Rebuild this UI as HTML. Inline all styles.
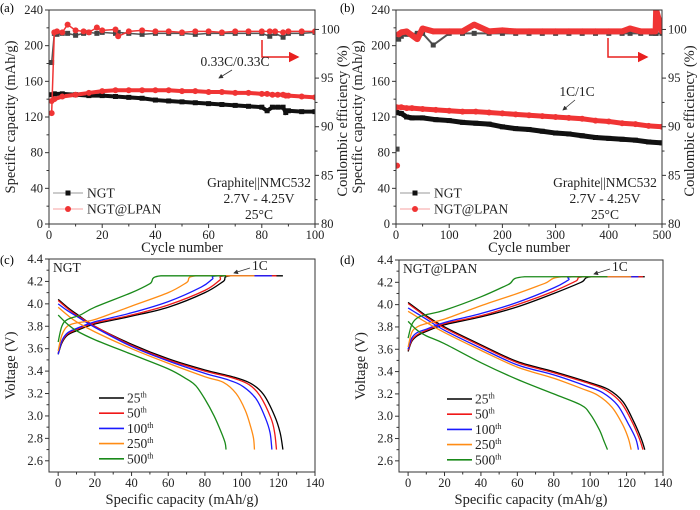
<!DOCTYPE html>
<html><head><meta charset="utf-8"><style>
html,body{margin:0;padding:0;background:#fff;}
svg{display:block;font-family:"Liberation Serif",serif;}
</style></head><body>
<svg id="fig" width="700" height="510" viewBox="0 0 700 510" xmlns="http://www.w3.org/2000/svg">
<defs>
<marker id="ahK" markerWidth="6" markerHeight="6" refX="5" refY="3" orient="auto"><path d="M0,0 L6,3 L0,6 Z" fill="#333"/></marker>
<marker id="ahR" markerWidth="7" markerHeight="7" refX="6" refY="3.5" orient="auto"><path d="M0,0 L7,3.5 L0,7 Z" fill="#e8201f"/></marker>
</defs>
<text x="0" y="12" font-size="12.5">(a)</text>
<text x="340" y="12" font-size="12.5">(b)</text>
<text x="0" y="264" font-size="12.5">(c)</text>
<text x="340" y="264" font-size="12.5">(d)</text>
</svg>
<script>
// ---------- Panel (a) data ----------
const aCycles = [1,2,5,10,15,20,25,30,35,40,45,50,55,60,65,70,75,80,82,84,86,88,89,90,95,100];
const aNGTcap = [145,146,146,145,144,144,143,142,141,139,138,137,136,135,134,133,132,131,127,131,131,131,125,127,126,126];
const aLPANcap = [138,140,143,145,147,149,150,150,150,150,150,149,149,148,148,147,147,146,146,145,145,145,144,144,143,142];
const aCEcycles = [1,2,3,5,7,10,13,15,18,20,25,26,30,35,40,45,50,55,60,65,70,75,80,83,85,88,90,95,100];
const aNGTce = [96.6,99.6,99.5,99.6,99.6,99.4,99.6,99.7,99.6,99.7,99.6,99.7,99.6,99.5,99.6,99.6,99.6,99.5,99.6,99.6,99.6,99.6,99.6,99.3,99.6,99.2,99.6,99.6,99.7];
const aLPANce = [91.4,99.7,99.8,99.7,100.5,99.9,99.8,99.7,100.2,99.9,100.0,99.3,99.8,99.9,99.8,99.8,99.7,99.8,99.8,99.7,99.8,99.8,99.8,99.8,99.8,99.7,99.8,99.8,99.8];
// ---------- Panel (b) data ----------
const bCycles = [1,10,20,30,50,75,100,125,150,175,200,225,250,275,300,325,350,375,400,425,450,475,500];
const bNGTcap = [125,124,120,119,119,117,116,114,113,112,109,107,106,104,102,101,99,97,96,95,94,92,91];
const bLPANcap = [131,131,130,130,129,128,127,126,126,125,124,123,122,121,120,119,118,116,115,113,112,110,109];
const bCEcycles = [2,5,10,20,40,50,70,100,125,147,175,200,225,250,275,300,325,350,375,400,425,440,460,480,488,489,500];
const bNGTce = [87.7,99.0,99.3,99.5,99.6,99.6,98.4,99.6,99.6,99.6,99.6,99.6,99.6,99.6,99.6,99.6,99.6,99.6,99.6,99.6,99.6,99.6,99.6,99.6,99.6,99.6,99.6];
const bLPANce = [86.0,99.5,99.7,99.8,99.0,100.1,99.8,99.8,99.8,100.5,99.8,99.9,99.8,99.8,99.8,99.8,99.8,99.8,99.8,99.8,99.8,100.1,99.8,99.8,99.8,102,99.8];
// ---------- Panel (c) voltage profiles (NGT) ----------
const cycleLabels = ["25","50","100","250","500"];
const curveColors = ["#000000","#f01818","#1a1aff","#ff8c14","#1a8a1a"];
const cDisCap = [[0,5,10,20,40,60,80,95,105,112,118,121,122.5],[0,5,10,20,40,60,80,95,104,110,116,118,119],[0,5,10,20,40,60,80,93,101,108,113,115.5,116.5],[0,5,10,20,40,60,80,90,97,102,105,106.5,107],[0,5,10,20,40,60,70,75,80,85,89,91,91.5]];
const cDisV = [[4.04,3.97,3.91,3.80,3.64,3.51,3.41,3.35,3.29,3.19,3.0,2.85,2.7],[4.03,3.96,3.90,3.80,3.63,3.50,3.40,3.34,3.28,3.18,2.98,2.85,2.7],[4.00,3.94,3.89,3.79,3.62,3.49,3.38,3.32,3.26,3.15,2.98,2.85,2.7],[3.97,3.90,3.84,3.75,3.60,3.47,3.35,3.30,3.20,3.05,2.90,2.8,2.7],[3.90,3.82,3.76,3.68,3.55,3.42,3.33,3.27,3.15,3.0,2.85,2.76,2.7]];
const cChgCap = [[0,2,5,10,20,40,60,80,90,94,122.5],[0,2,5,10,20,40,60,80,88,91,119],[0,2,5,10,20,40,60,78,84,87,116.5],[0,2,5,10,20,40,60,70,75,107],[0,2,5,12,20,40,50,56,91.5]];
const cChgV = [[3.55,3.65,3.72,3.76,3.82,3.89,3.97,4.10,4.20,4.25,4.25],[3.56,3.66,3.73,3.77,3.83,3.90,3.99,4.12,4.21,4.25,4.25],[3.55,3.67,3.74,3.78,3.84,3.92,4.02,4.15,4.22,4.25,4.25],[3.58,3.72,3.80,3.83,3.86,3.98,4.10,4.19,4.25,4.25],[3.66,3.80,3.86,3.90,3.97,4.10,4.18,4.25,4.25]];
// ---------- Panel (d) voltage profiles (NGT@LPAN) ----------
const dDisCap = [[0,5,10,20,40,60,80,100,110,118,124,128,130],[0,5,10,20,40,60,80,100,109,117,123,127,129],[0,5,10,20,40,60,80,98,107,115,121,125,126.5],[0,5,10,20,40,60,80,95,104,112,118,121,122.5],[0,5,10,20,40,60,80,95,100,105,107.5,109.5]];
const dDisV = [[4.02,3.96,3.90,3.80,3.64,3.49,3.40,3.30,3.24,3.13,2.95,2.8,2.7],[4.01,3.95,3.89,3.79,3.63,3.48,3.39,3.29,3.23,3.12,2.95,2.8,2.7],[3.97,3.92,3.87,3.77,3.61,3.46,3.37,3.27,3.21,3.10,2.93,2.8,2.7],[3.94,3.89,3.84,3.75,3.59,3.44,3.34,3.25,3.19,3.08,2.92,2.8,2.7],[3.85,3.77,3.72,3.65,3.48,3.33,3.20,3.10,3.02,2.88,2.78,2.7]];
const dChgCap = [[0,2,5,10,20,40,60,80,95,101,130],[0,2,5,10,20,40,60,80,92,97,129],[0,2,5,10,20,40,60,80,88,91,126.5],[0,2,5,10,20,40,60,75,85,122.5],[0,2,5,10,20,40,55,64,109.5]];
const dChgV = [[3.58,3.67,3.72,3.76,3.82,3.89,3.98,4.10,4.20,4.25,4.25],[3.59,3.68,3.73,3.77,3.83,3.90,4.00,4.12,4.21,4.25,4.25],[3.60,3.70,3.75,3.78,3.84,3.92,4.02,4.15,4.22,4.25,4.25],[3.62,3.75,3.80,3.83,3.87,3.99,4.10,4.19,4.25,4.25],[3.70,3.82,3.88,3.91,3.95,4.07,4.18,4.25,4.25]];

const svg = document.getElementById('fig');
const NS = 'http://www.w3.org/2000/svg';
const TICK = 12.5, TITLE = 14.5;
function mk(tag, attrs, parent){
  const e = document.createElementNS(NS, tag);
  for (const k in attrs) e.setAttribute(k, attrs[k]);
  (parent||svg).appendChild(e);
  return e;
}
function scale(d0,d1,r0,r1){ return v => r0 + (v-d0)/(d1-d0)*(r1-r0); }
function smoothPath(pts){
  let d = 'M'+pts[0][0].toFixed(2)+','+pts[0][1].toFixed(2);
  for (let i=0;i<pts.length-1;i++){
    const p0=pts[Math.max(i-1,0)], p1=pts[i], p2=pts[i+1], p3=pts[Math.min(i+2,pts.length-1)];
    let c1=[p1[0]+(p2[0]-p0[0])/6, p1[1]+(p2[1]-p0[1])/6];
    let c2=[p2[0]-(p3[0]-p1[0])/6, p2[1]-(p3[1]-p1[1])/6];
    if (Math.abs(p1[1]-p2[1])<0.01){ c1=[p1[0]+(p2[0]-p1[0])/3,p1[1]]; c2=[p2[0]-(p2[0]-p1[0])/3,p2[1]]; }
    d += ' C'+c1[0].toFixed(2)+','+c1[1].toFixed(2)+' '+c2[0].toFixed(2)+','+c2[1].toFixed(2)+' '+p2[0].toFixed(2)+','+p2[1].toFixed(2);
  }
  return d;
}
function txt(x,y,s,size,anchor){
  const t = mk('text', {x:x,y:y,'font-size':size,'text-anchor':anchor||'start',fill:'#222'});
  t.textContent = s;
  return t;
}
function drawBox(L,T,R,B,name){
  const r = mk('rect',{x:L,y:T,width:R-L,height:B-T,fill:'none',stroke:'#333','stroke-width':1});
  
  
}
function xAxis(sx,ticks,B,name){
  const g = mk('g',{});
  
  
  for (let i=0;i<ticks.length;i++){
    const x = sx(ticks[i]);
    mk('line',{x1:x,y1:B,x2:x,y2:B+4,stroke:'#333'},g);
    const t = mk('text',{x:x,y:B+15,'font-size':TICK,'text-anchor':'middle',fill:'#222'},g); t.textContent=String(ticks[i]);
    if (i<ticks.length-1){ const xm = sx((ticks[i]+ticks[i+1])/2); mk('line',{x1:xm,y1:B,x2:xm,y2:B+2.5,stroke:'#333'},g); }
  }
}
function yAxis(sy,ticks,X,side,name,fmt){
  const g = mk('g',{});
  
  
  const dir = side==='left'?-1:1;
  for (let i=0;i<ticks.length;i++){
    const y = sy(ticks[i]);
    mk('line',{x1:X,y1:y,x2:X+dir*4,y2:y,stroke:'#333'},g);
    const t = mk('text',{x:X+dir*6,y:y+4,'font-size':TICK,'text-anchor':side==='left'?'end':'start',fill:'#222'},g);
    t.textContent = fmt?fmt(ticks[i]):String(ticks[i]);
    if (i<ticks.length-1){ const ym = sy((ticks[i]+ticks[i+1])/2); mk('line',{x1:X,y1:ym,x2:X+dir*2.5,y2:ym,stroke:'#333'},g); }
  }
}
function rotTitle(x,y,s,name){
  const t = mk('text',{x:x,y:y,'font-size':TITLE,'text-anchor':'middle',fill:'#222',transform:'rotate(-90 '+x+' '+y+')'});
  t.textContent = s;
  
  
}
function title(x,y,s,name){
  const t = txt(x,y,s,TITLE,'middle');
  
  
}

function cyclePanel(o){
  const sx = scale(0,o.xmax,o.L,o.R);
  const sy = scale(0,240,o.B,o.T);
  const sce = scale(80,102,o.B,o.T);
  const clipId = 'clip'+o.id;
  const cp = mk('clipPath',{id:clipId}); mk('rect',{x:o.L,y:o.T,width:o.R-o.L,height:o.B-o.T},cp);
  const g = mk('g',{'clip-path':'url(#'+clipId+')'});
  const capK = mk('polyline',{points:o.cyc.map((c,i)=>sx(c)+','+sy(o.ngtCap[i])).join(' '),fill:'none',stroke:'#111','stroke-width':o.thick},g);
  
  
  const capR = mk('polyline',{points:o.cyc.map((c,i)=>sx(c)+','+sy(o.lpanCap[i])).join(' '),fill:'none',stroke:'#f03434','stroke-width':o.thick},g);
  
  
  o.cyc.forEach((c,i)=>{
    const m = mk('rect',{x:sx(c)-2.5,y:sy(o.ngtCap[i])-2.5,width:5,height:5,fill:'#111'},g);
    
    
  });
  o.cyc.forEach((c,i)=>{
    const m = mk('circle',{cx:sx(c),cy:sy(o.lpanCap[i]),r:3,fill:'#f03434'},g);
    
    
  });
  const s0 = o.ceSkipFirst ? 1 : 0;
  const ceK = mk('polyline',{points:o.ceCyc.slice(s0).map((c,i)=>sx(c)+','+sce(o.ngtCe[i+s0])).join(' '),fill:'none',stroke:'#555','stroke-width':o.ceThickK},g);
  
  
  o.ceCyc.forEach((c,i)=>{
    const m = mk('rect',{x:sx(c)-2.5,y:sce(o.ngtCe[i])-2.5,width:5,height:5,fill:'#444'},g);
    
    
  });
  const ceR = mk('polyline',{points:o.ceCyc.slice(s0).map((c,i)=>sx(c)+','+sce(o.lpanCe[i+s0])).join(' '),fill:'none',stroke:'#f03434','stroke-width':o.ceThickR,'stroke-linejoin':'bevel'},g);
  
  
  o.ceCyc.forEach((c,i)=>{
    const m = mk('circle',{cx:sx(c),cy:sce(o.lpanCe[i]),r:3,fill:'#f03434'},g);
    
    
  });
  drawBox(o.L,o.T,o.R,o.B,'plot-frame-'+o.id);
  xAxis(sx,o.xticks,o.B,'x-axis-'+o.id);
  yAxis(sy,[0,40,80,120,160,200,240],o.L,'left','y-axis-capacity-'+o.id);
  yAxis(sce,[80,85,90,95,100],o.R,'right','y-axis-ce-'+o.id);
  rotTitle(o.L-34,(o.T+o.B)/2,'Specific capacity (mAh/g)','y-axis-title-capacity-'+o.id);
  rotTitle(o.R+32,(o.T+o.B)/2+4,'Coulombic efficiency (%)','y-axis-title-ce-'+o.id);
  title((o.L+o.R)/2,252,'Cycle number','x-axis-title-'+o.id);
  const lg = mk('g',{});
  
  
  mk('line',{x1:o.L+4,y1:193,x2:o.L+34,y2:193,stroke:'#999','stroke-width':1},lg);
  mk('rect',{x:o.L+16.5,y:190.5,width:5,height:5,fill:'#111'},lg);
  const t1 = mk('text',{x:o.L+38,y:197.5,'font-size':13.5,fill:'#222'},lg); t1.textContent='NGT';
  mk('line',{x1:o.L+4,y1:209,x2:o.L+34,y2:209,stroke:'#f7a0a0','stroke-width':1},lg);
  mk('circle',{cx:o.L+19,cy:209,r:3,fill:'#f03434'},lg);
  const t2 = mk('text',{x:o.L+38,y:213.5,'font-size':13.5,fill:'#222'},lg); t2.textContent='NGT@LPAN';
  const ann = mk('g',{});
  
  
  [['Graphite||NMC532',187],['2.7V - 4.25V',203],['25°C',219]].forEach(a=>{ const t=mk('text',{x:o.noteX,y:a[1],'font-size':13.5,'text-anchor':'middle',fill:'#222'},ann); t.textContent=a[0]; });
  const ra = mk('polyline',{points:o.redArrow,fill:'none',stroke:'#e8201f','stroke-width':1.5,'marker-end':'url(#ahR)'});
  
  
  const rl = txt(o.rateX,o.rateY,o.rate,13.5,'middle');
  
  
  const al = mk('line',{x1:o.rateArrow[0],y1:o.rateArrow[1],x2:o.rateArrow[2],y2:o.rateArrow[3],stroke:'#333','stroke-width':0.8,'marker-end':'url(#ahK)'});
  
  
}
cyclePanel({id:'a',L:49,R:315,T:10,B:224,xmax:100,xticks:[0,20,40,60,80,100],cyc:aCycles,ngtCap:aNGTcap,lpanCap:aLPANcap,ceCyc:aCEcycles,ngtCe:aNGTce,lpanCe:aLPANce,thick:4,ceThickK:1.5,ceThickR:1.5,ceSkipFirst:false,noteX:259,redArrow:'262,40 262,57 298,57',rate:'0.33C/0.33C',rateX:235,rateY:66,rateArrow:[232,70,219,78]});
cyclePanel({id:'b',L:396,R:662,T:10,B:224,xmax:500,xticks:[0,100,200,300,400,500],cyc:bCycles,ngtCap:bNGTcap,lpanCap:bLPANcap,ceCyc:bCEcycles,ngtCe:bNGTce,lpanCe:bLPANce,thick:5,ceThickK:2,ceThickR:6,ceSkipFirst:true,noteX:605,redArrow:'608,38 608,57 647,57',rate:'1C/1C',rateX:577,rateY:96,rateArrow:[575,100,563,110]});

function voltPanel(o){
  const sx = scale(-5,140,o.L,o.R);
  const sy = scale(2.5,4.4,o.B,o.T);
  const cp = mk('clipPath',{id:'clip'+o.id}); mk('rect',{x:o.L,y:o.T,width:o.R-o.L,height:o.B-o.T},cp);
  const g = mk('g',{'clip-path':'url(#clip'+o.id+')'});
  for (let k=0;k<cycleLabels.length;k++){
    const ch = mk('path',{d:smoothPath(o.chgCap[k].map((c,i)=>[sx(c),sy(o.chgV[k][i])])),fill:'none',stroke:curveColors[k],'stroke-width':1.3},g);
    
    
    const dc = mk('path',{d:smoothPath(o.disCap[k].map((c,i)=>[sx(c),sy(o.disV[k][i])])),fill:'none',stroke:curveColors[k],'stroke-width':1.3},g);
    
    
  }
  drawBox(o.L,o.T,o.R,o.B,'plot-frame-'+o.id);
  xAxis(sx,[0,20,40,60,80,100,120,140],o.B,'x-axis-'+o.id);
  yAxis(sy,[2.6,2.8,3.0,3.2,3.4,3.6,3.8,4.0,4.2,4.4],o.L,'left','y-axis-'+o.id,v=>v.toFixed(1));
  rotTitle(o.L-34,(o.T+o.B)/2,'Voltage (V)','y-axis-title-'+o.id);
  title((o.L+o.R)/2,504,'Specific capacity (mAh/g)','x-axis-title-'+o.id);
  const lg = mk('g',{});
  
  
  for (let k=0;k<cycleLabels.length;k++){
    const y = o.legY + k*15.2;
    mk('line',{x1:o.legX,y1:y,x2:o.legX+25,y2:y,stroke:curveColors[k],'stroke-width':1.6},lg);
    const t = mk('text',{x:o.legX+28,y:y+4.5,'font-size':13.5,fill:'#222'},lg);
    t.textContent = cycleLabels[k];
    const s = mk('tspan',{'font-size':8,dy:-5},t); s.textContent='th';
  }
  const nl = txt(o.L+4,o.T+13,o.name,13.5,'start');
  
  
  const rl = txt(o.rateX,o.T+11,'1C',13.5,'start');
  
  
  const al = mk('line',{x1:o.rateX-2,y1:o.T+9,x2:o.rateX-18,y2:o.T+14,stroke:'#333','stroke-width':0.8,'marker-end':'url(#ahK)'});
  
  
}
voltPanel({id:'c',L:49,R:315,T:259,B:472,name:'NGT',disCap:cDisCap,disV:cDisV,chgCap:cChgCap,chgV:cChgV,legX:99,legY:398,rateX:252});
voltPanel({id:'d',L:399,R:663,T:260,B:472,name:'NGT@LPAN',disCap:dDisCap,disV:dDisV,chgCap:dChgCap,chgV:dChgV,legX:447,legY:399,rateX:612});
</script>
</body></html>
